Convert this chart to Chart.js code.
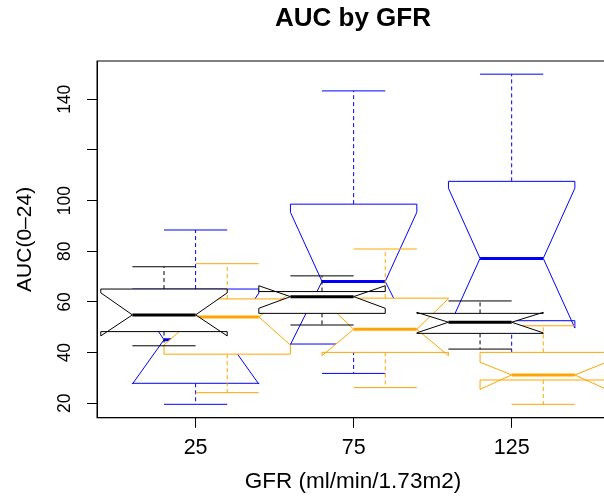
<!DOCTYPE html>
<html>
<head>
<meta charset="utf-8">
<title>AUC by GFR</title>
<script src="https://cdn.jsdelivr.net/npm/chart.js@4.4.1/dist/chart.umd.min.js"></script>
<style>
  html, body { margin: 0; padding: 0; background: #fff; overflow: hidden; }
  canvas { display: block; }
</style>
</head>
<body>
<canvas id="aucChart" width="640" height="502"></canvas>
<script>
// ------------------- Data ------------------- //

const gfrGroups = [25, 75, 125];
const yTicks = [20, 40, 60, 80, 100, 120, 140];

// [lower whisker, Q1, median, Q3, upper whisker] for each GFR group
const blackStats = [
  [42.7, 48.3, 54.9, 65.1, 73.9],
  [50.9, 55.5, 62.1, 64.1, 70.3],
  [41.4, 47.6, 52.0, 55.5, 60.4]
];
const blueStats = [
  [19.6, 27.9, 45.1, 65.1, 88.4],
  [31.8, 43.4, 68.1, 98.6, 143.3],
  [38.5, 52.6, 77.2, 107.6, 149.9]
];
const orangeStats = [
  [24.2, 39.4, 54.1, 61.2, 75.1],
  [26.2, 40.1, 49.2, 61.5, 80.9],
  [19.6, 29.2, 31.2, 40.1, 50.6]
];

// notch limits [lower, upper] around each median
const blackNotch = [[46.6, 63.6], [57.5, 66.4], [47.8, 55.9]];
const blueNotch = [[27.6, 63.5], [43.2, 95.4], [49.7, 104.9]];
const orangeNotch = [[43.0, 63.8], [38.8, 61.3], [25.5, 36.2]];

// ------------------- Helpers ------------------- //

const FONT = "'Liberation Sans', Arial, Helvetica, sans-serif";
const HALF_BOX = 20;   // half box width, in GFR units
const SHIFT = 10;      // side-by-side offset between series

// Draw one notched box (R style) using the chart scales
function drawBox(ctx, xs, ys, pos, s, n, color) {
  const [lo, q1, med, q3, hi] = s;
  const cx = xs.getPixelForValue(pos);
  const w = xs.getPixelForValue(pos + HALF_BOX) - cx;
  const py = v => ys.getPixelForValue(v);

  ctx.save();
  ctx.strokeStyle = color;
  ctx.lineWidth = 1;

  // dashed whiskers
  ctx.setLineDash([4, 3]);
  ctx.beginPath();
  ctx.moveTo(cx, py(q1)); ctx.lineTo(cx, py(lo));
  ctx.moveTo(cx, py(q3)); ctx.lineTo(cx, py(hi));
  ctx.stroke();
  ctx.setLineDash([]);

  // staples
  ctx.beginPath();
  ctx.moveTo(cx - w / 2, py(lo)); ctx.lineTo(cx + w / 2, py(lo));
  ctx.moveTo(cx - w / 2, py(hi)); ctx.lineTo(cx + w / 2, py(hi));
  ctx.stroke();

  // notched box, filled white
  ctx.beginPath();
  ctx.moveTo(cx - w, py(q1));
  ctx.lineTo(cx + w, py(q1));
  ctx.lineTo(cx + w, py(n[0]));
  ctx.lineTo(cx + w / 2, py(med));
  ctx.lineTo(cx + w, py(n[1]));
  ctx.lineTo(cx + w, py(q3));
  ctx.lineTo(cx - w, py(q3));
  ctx.lineTo(cx - w, py(n[1]));
  ctx.lineTo(cx - w / 2, py(med));
  ctx.lineTo(cx - w, py(n[0]));
  ctx.closePath();
  ctx.fillStyle = "#fff";
  ctx.fill();
  ctx.stroke();

  // thick median
  ctx.lineWidth = 3;
  ctx.lineCap = "butt";
  ctx.beginPath();
  ctx.moveTo(cx - w / 2, py(med));
  ctx.lineTo(cx + w / 2, py(med));
  ctx.stroke();
  ctx.restore();
}

const boxPlugin = {
  id: "notchedBoxes",
  afterDatasetsDraw(chart) {
    const { ctx, chartArea, scales } = chart;
    chart.data.datasets.forEach(ds => {
      ds.stats.forEach((s, i) => {
        drawBox(ctx, scales.x, scales.y, gfrGroups[i] + ds.shift, s, ds.notch[i], ds.borderColor);
      });
    });
    // full frame around the plot region
    ctx.save();
    ctx.strokeStyle = "#000";
    ctx.lineWidth = 1;
    ctx.strokeRect(chartArea.left, chartArea.top, chartArea.width, chartArea.height);
    ctx.restore();
  }
};

// one dataset per series; drawn in this order (black last, on top)
function makeSeries(label, stats, notch, color, shift) {
  return {
    label: label,
    data: stats.map((s, i) => ({ x: gfrGroups[i] + shift, y: s[2] })),
    stats: stats,
    notch: notch,
    shift: shift,
    borderColor: color,
    backgroundColor: color,
    pointRadius: 0,
    showLine: false
  };
}

// ------------------- Chart ------------------- //

new Chart(document.getElementById("aucChart"), {
  type: "scatter",
  data: {
    datasets: [
      makeSeries("blue", blueStats, blueNotch, "#0000ff", 0),
      makeSeries("orange", orangeStats, orangeNotch, "#ffa500", SHIFT),
      makeSeries("black", blackStats, blackNotch, "#000000", -SHIFT)
    ]
  },
  options: {
    responsive: false,
    animation: false,
    devicePixelRatio: 1,
    layout: { padding: { left: 0, right: 31, top: 0, bottom: 0 } },
    plugins: {
      legend: { display: false },
      tooltip: { enabled: false },
      title: {
        display: true,
        text: "AUC by GFR",
        fullSize: false,
        color: "#000",
        font: { family: FONT, size: 26, weight: "bold" },
        padding: { top: 3.7, bottom: 26.1 }
      }
    },
    scales: {
      x: {
        type: "linear",
        min: -6.2,
        max: 155.8,
        afterBuildTicks: s => { s.ticks = gfrGroups.map(v => ({ value: v })); },
        afterFit: s => { s.height = 84.2; },
        grid: { display: true, drawOnChartArea: false, drawTicks: true, tickLength: 10, color: "#000", lineWidth: 1 },
        border: { display: true, color: "#000", width: 1 },
        ticks: { color: "#000", font: { family: FONT, size: 21.5 }, padding: 7.8, maxRotation: 0, autoSkip: false },
        title: {
          display: true,
          text: "GFR (ml/min/1.73m2)",
          color: "#000",
          font: { family: FONT, size: 22.5 },
          padding: { top: 0, bottom: 6.3 }
        }
      },
      y: {
        type: "linear",
        min: 14.28,
        max: 155.1,
        afterBuildTicks: s => { s.ticks = yTicks.map(v => ({ value: v })); },
        afterFit: s => { s.width = 97; },
        grid: { display: true, drawOnChartArea: false, drawTicks: true, tickLength: 10, color: "#000", lineWidth: 1 },
        border: { display: true, color: "#000", width: 1 },
        ticks: {
          color: "#000",
          font: { family: FONT, size: 17.5 },
          padding: 7,
          minRotation: 90,
          maxRotation: 90,
          crossAlign: "center",
          autoSkip: false,
          callback: v => (v === 120 ? "" : String(v))
        },
        title: {
          display: true,
          text: "AUC(0–24)",
          color: "#000",
          font: { family: FONT, size: 21 },
          padding: { top: 12.4, bottom: 0 }
        }
      }
    }
  },
  plugins: [boxPlugin]
});
</script>
</body>
</html>
